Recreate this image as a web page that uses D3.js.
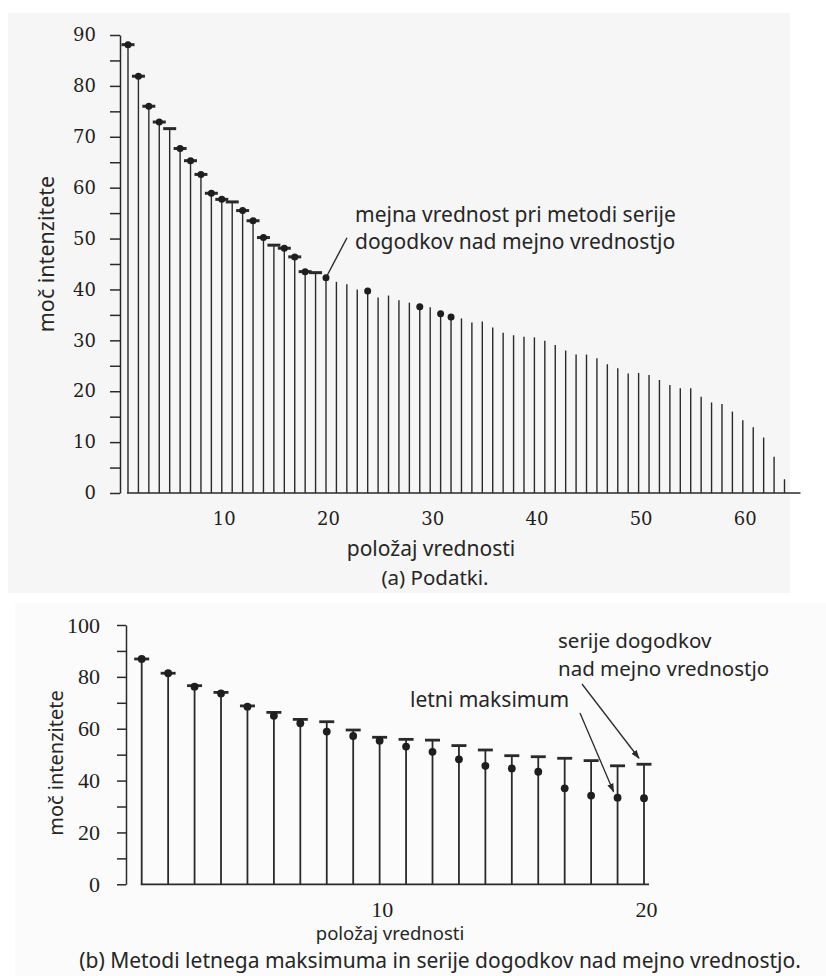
<!DOCTYPE html>
<html>
<head>
<meta charset="utf-8">
<script src="https://d3js.org/d3.v7.min.js"></script>
<style>
  body { margin: 0; background: #fff; }
  svg text { font-family: "Noto Sans", sans-serif; fill: #262626; }
  .axA .tick text { font-family: "DejaVu Serif", serif; font-size: 18px; fill: #1e1e1e; }
  .axB .tick text { font-family: "Liberation Serif", serif; font-size: 22px; fill: #1e1e1e; }
  .axis path, .axis line { stroke: #2a2a2a; stroke-width: 1.5; }
  .stem { stroke: #2a2a2a; }
</style>
</head>
<body>
<svg width="826" height="976"></svg>
<script>
// ---- (a) Podatki: all values, ranked ----
var valuesA = [88.1, 81.9, 76.0, 72.9, 71.6, 67.7, 65.3, 62.6, 58.9, 57.7,
               57.2, 55.5, 53.5, 50.2, 48.7, 48.1, 46.4, 43.5, 43.3, 42.3,
               41.5, 41.0, 40.0, 39.7, 38.4, 38.8, 37.9, 37.4, 36.6, 36.5,
               35.2, 34.6, 34.3, 33.5, 33.7, 32.5, 31.5, 31.0, 30.7, 30.6,
               29.9, 29.1, 28.0, 27.2, 27.2, 26.5, 25.3, 24.5, 23.5, 23.6,
               23.2, 22.2, 21.2, 20.6, 20.6, 18.9, 17.8, 17.5, 16.0, 14.3,
               12.9, 10.9, 7.1, 2.7];
// ranks marked as events above threshold (dash) and annual maxima (dot)
var potRanksA = [1, 2, 3, 4, 5, 6, 7, 8, 9, 10, 11, 12, 13, 14, 15, 16, 17, 18, 19];
var annMaxRanksA = [1, 2, 3, 4, 6, 7, 8, 9, 10, 12, 13, 14, 16, 17, 18, 20, 24, 29, 31, 32];
var thresholdRankA = 20;
var xTicksA = [10, 20, 30, 40, 50, 60];
var yTicksA = [0, 10, 20, 30, 40, 50, 60, 70, 80, 90];
var yMinorA = [5, 15, 25, 35, 45, 55, 65, 75, 85];

// ---- (b) the two methods, 20 largest each ----
var potB = [86.9, 81.4, 76.6, 74.0, 68.8, 66.3, 63.6, 62.7, 59.5, 56.7,
            55.9, 55.6, 53.5, 51.8, 49.6, 49.2, 48.6, 47.7, 45.7, 46.3];
var annMaxB = [86.9, 81.4, 76.2, 73.6, 68.5, 65.0, 62.1, 58.9, 57.2, 55.4,
               53.1, 51.1, 48.2, 45.7, 44.7, 43.4, 37.0, 34.2, 33.4, 33.2];
var xTicksB = [10, 20];
var yTicksB = [0, 20, 40, 60, 80, 100];
var yMinorB = [10, 30, 50, 70, 90];

var svg = d3.select("svg");

svg.append("defs").append("marker")
  .attr("id", "head")
  .attr("viewBox", "0 0 10 10")
  .attr("refX", 9).attr("refY", 5)
  .attr("markerWidth", 7).attr("markerHeight", 7)
  .attr("orient", "auto")
  .append("path").attr("d", "M0,1.5 L10,5 L0,8.5 z").attr("fill", "#2a2a2a");

// ================= panel (a) =================
svg.append("rect").attr("x", 8).attr("y", 13).attr("width", 782).attr("height", 580)
  .attr("fill", "#f6f6f6");

var xA = d3.scaleLinear().domain([1, 64]).range([128, 784.5]);
var yA = d3.scaleLinear().domain([0, 90]).range([493, 35]);
var gA = svg.append("g");

var ptsA = valuesA.map((v, i) => ({ rank: i + 1, v: v }));

gA.append("line").attr("class", "stem")
  .attr("x1", xA(1) - 1).attr("x2", xA(64) + 16)
  .attr("y1", yA(0)).attr("y2", yA(0)).attr("stroke-width", 1.6);

gA.selectAll(".s").data(ptsA).enter().append("line").attr("class", "stem")
  .attr("x1", d => xA(d.rank)).attr("x2", d => xA(d.rank))
  .attr("y1", yA(0)).attr("y2", d => yA(d.v))
  .attr("stroke-width", 1.4);

gA.selectAll(".pot").data(ptsA.filter(d => potRanksA.includes(d.rank))).enter()
  .append("line").attr("class", "stem")
  .attr("x1", d => xA(d.rank) - 6.5).attr("x2", d => xA(d.rank) + 6.5)
  .attr("y1", d => yA(d.v)).attr("y2", d => yA(d.v))
  .attr("stroke-width", 3);

gA.selectAll(".am").data(ptsA.filter(d => annMaxRanksA.includes(d.rank))).enter()
  .append("circle")
  .attr("cx", d => xA(d.rank)).attr("cy", d => yA(d.v))
  .attr("r", 3.5).attr("fill", "#1e1e1e");

var yAxA = d3.axisLeft(yA).tickValues(yTicksA).tickSize(10).tickPadding(14).tickSizeOuter(0);
gA.append("g").attr("class", "axis axA").attr("transform", "translate(120,0)").call(yAxA);
gA.append("g").attr("class", "axis axA").attr("transform", "translate(120,0)")
  .call(d3.axisLeft(yA).tickValues(yMinorA).tickSize(10).tickFormat(""))
  .select(".domain").remove();

var xAxA = d3.axisBottom(xA).tickValues(xTicksA).tickSize(0).tickPadding(19);
gA.append("g").attr("class", "axis axA").attr("transform", "translate(0," + yA(0) + ")")
  .call(xAxA).call(g => g.select(".domain").remove())
  .selectAll("text").attr("dx", 2);

// threshold annotation
var thrA = ptsA[thresholdRankA - 1];
gA.append("line").attr("class", "stem").attr("stroke-width", 1.4)
  .attr("x1", xA(thrA.rank) + 1).attr("y1", yA(thrA.v) - 2)
  .attr("x2", xA(thrA.rank) + 21).attr("y2", yA(thrA.v) - 40);
gA.append("text").attr("x", 355).attr("y", 222).style("font-size", "21px")
  .text("mejna vrednost pri metodi serije");
gA.append("text").attr("x", 355).attr("y", 249).style("font-size", "21px")
  .text("dogodkov nad mejno vrednostjo");

gA.append("text").attr("transform", "translate(54,254) rotate(-90)")
  .attr("text-anchor", "middle").style("font-size", "21.5px").text("moč intenzitete");
gA.append("text").attr("x", 431).attr("y", 556).attr("text-anchor", "middle")
  .style("font-size", "21px").text("položaj vrednosti");
gA.append("text").attr("x", 435).attr("y", 585).attr("text-anchor", "middle")
  .style("font-size", "20.5px").text("(a) Podatki.");

// ================= panel (b) =================
svg.append("rect").attr("x", 15).attr("y", 603).attr("width", 811).attr("height", 373)
  .attr("fill", "#fbfbfb");

var xB = d3.scaleLinear().domain([1, 20]).range([141.7, 644]);
var yB = d3.scaleLinear().domain([0, 100]).range([884.3, 625]);
var gB = svg.append("g");

var ptsB = potB.map((v, i) => ({ rank: i + 1, pot: v, am: annMaxB[i] }));

gB.append("line").attr("class", "stem")
  .attr("x1", xB(1) - 1).attr("x2", xB(20) + 5)
  .attr("y1", yB(0)).attr("y2", yB(0)).attr("stroke-width", 1.8);

gB.selectAll(".s").data(ptsB).enter().append("line").attr("class", "stem")
  .attr("x1", d => xB(d.rank)).attr("x2", d => xB(d.rank))
  .attr("y1", yB(0)).attr("y2", d => yB(d.pot))
  .attr("stroke-width", 1.8);

gB.selectAll(".pot").data(ptsB).enter().append("line").attr("class", "stem")
  .attr("x1", d => xB(d.rank) - 7.5).attr("x2", d => xB(d.rank) + 7.5)
  .attr("y1", d => yB(d.pot)).attr("y2", d => yB(d.pot))
  .attr("stroke-width", 2.8);

gB.selectAll(".am").data(ptsB).enter().append("circle")
  .attr("cx", d => xB(d.rank)).attr("cy", d => yB(d.am))
  .attr("r", 3.9).attr("fill", "#1e1e1e");

var yAxB = d3.axisLeft(yB).tickValues(yTicksB).tickSize(9).tickPadding(17).tickSizeOuter(0);
gB.append("g").attr("class", "axis axB").attr("transform", "translate(126,0)").call(yAxB);
gB.append("g").attr("class", "axis axB").attr("transform", "translate(126,0)")
  .call(d3.axisLeft(yB).tickValues(yMinorB).tickSize(9).tickFormat(""))
  .select(".domain").remove();

var xAxB = d3.axisBottom(xB).tickValues(xTicksB).tickSize(0).tickPadding(17);
gB.append("g").attr("class", "axis axB").attr("transform", "translate(0," + yB(0) + ")")
  .call(xAxB).call(g => g.select(".domain").remove())
  .selectAll("text").attr("dx", 2);

// annotations with arrows
var p19 = ptsB[18], p20 = ptsB[19];
gB.append("line").attr("class", "stem").attr("stroke-width", 1.3)
  .attr("marker-end", "url(#head)")
  .attr("x1", 580).attr("y1", 713)
  .attr("x2", xB(p19.rank) - 4).attr("y2", yB(p19.am) - 6);
gB.append("line").attr("class", "stem").attr("stroke-width", 1.3)
  .attr("marker-end", "url(#head)")
  .attr("x1", 582).attr("y1", 684)
  .attr("x2", xB(p20.rank) - 5).attr("y2", yB(p20.pot) - 6);

gB.append("text").attr("x", 558).attr("y", 648).style("font-size", "20.5px").text("serije dogodkov");
gB.append("text").attr("x", 558).attr("y", 676).style("font-size", "20.5px").text("nad mejno vrednostjo");
gB.append("text").attr("x", 410).attr("y", 707).style("font-size", "21px").text("letni maksimum");

gB.append("text").attr("transform", "translate(63,763) rotate(-90)")
  .attr("text-anchor", "middle").style("font-size", "20px").text("moč intenzitete");
gB.append("text").attr("x", 390).attr("y", 940).attr("text-anchor", "middle")
  .style("font-size", "18.5px").text("položaj vrednosti");
gB.append("text").attr("x", 440).attr("y", 968).attr("text-anchor", "middle")
  .style("font-size", "21px").text("(b) Metodi letnega maksimuma in serije dogodkov nad mejno vrednostjo.");
</script>
</body>
</html>
